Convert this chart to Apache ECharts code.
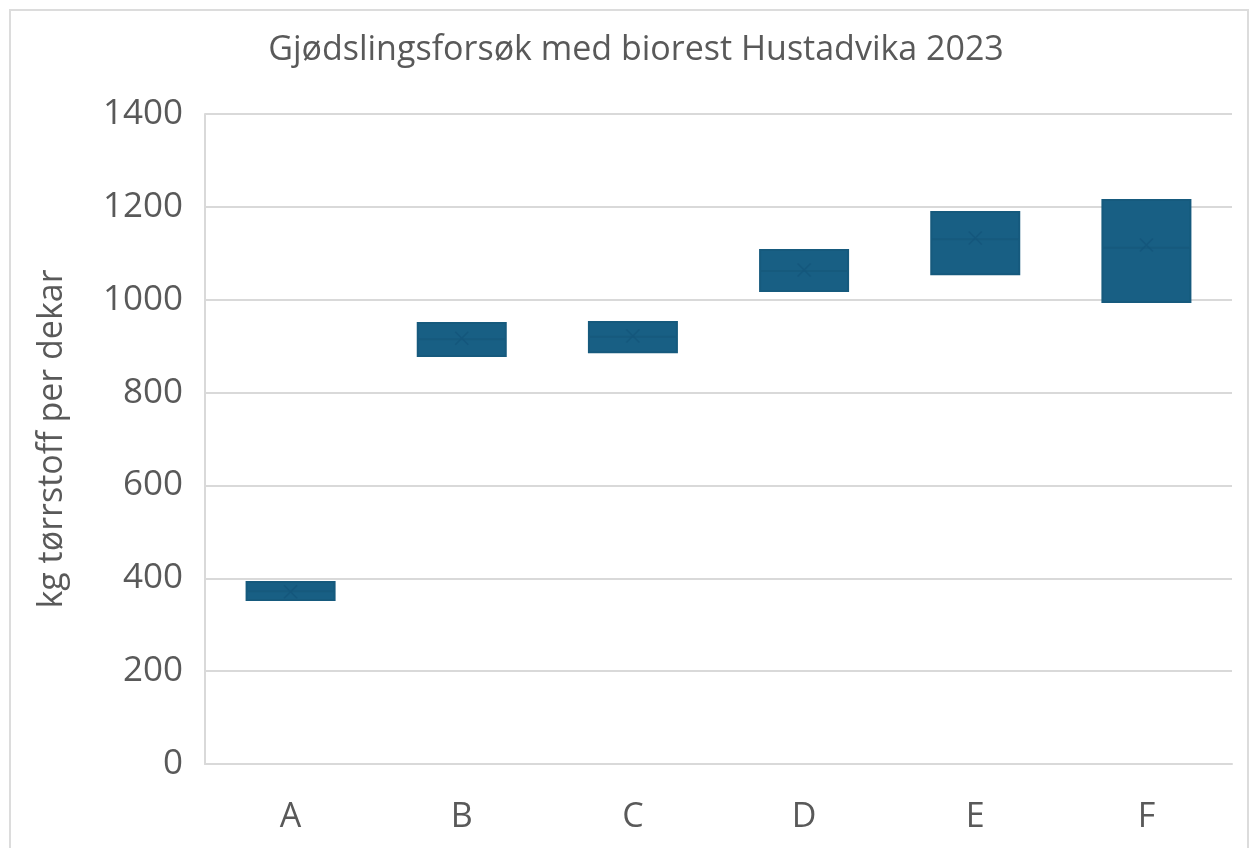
<!DOCTYPE html>
<html>
<head>
<meta charset="utf-8">
<script src="https://cdn.jsdelivr.net/npm/echarts@6/dist/echarts.min.js"></script>
<style>
html,body{margin:0;padding:0;background:#fff;}
#chart{width:1252px;height:848px;}
</style>
</head>
<body>
<div id="chart"></div>
<script>
var categories = ['A', 'B', 'C', 'D', 'E', 'F'];
var lowValues = [353, 879, 887, 1019, 1055, 995];
var medianValues = [372, 915, 920, 1062, 1130, 1112];
var highValues = [392, 950, 952, 1107, 1189, 1215];
var meanValues = [371, 917, 922, 1064, 1133, 1118];
var yTicks = [0, 200, 400, 600, 800, 1000, 1200, 1400];

var boxData = categories.map(function (c, i) {
  return [lowValues[i], lowValues[i], medianValues[i], highValues[i], highValues[i]];
});

var chart = echarts.init(document.getElementById('chart'));
var font = '"Open Sans", "Noto Sans", sans-serif';
chart.setOption({
  animation: false,
  backgroundColor: '#ffffff',
  title: {
    text: 'Gjødslingsforsøk med biorest Hustadvika 2023',
    left: 631, top: 28, textAlign: 'center',
    textStyle: { fontFamily: font, fontSize: 34, fontWeight: 'normal', color: '#595959' }
  },
  graphic: [{
    type: 'rect', shape: { x: 10, y: 10, width: 1238, height: 860 },
    style: { fill: 'none', stroke: '#dcdcdc', lineWidth: 2 }, silent: true, z: -1
  }],
  grid: { left: 205, right: 20, top: 114, bottom: 84 },
  xAxis: {
    type: 'category', data: categories,
    axisLine: { show: true, lineStyle: { color: '#d9d9d9', width: 2 } },
    axisTick: { show: false },
    axisLabel: { fontFamily: font, fontSize: 34, color: '#595959', margin: 36 }
  },
  yAxis: {
    type: 'value', min: 0, max: 1400, interval: 200,
    name: 'kg tørrstoff per dekar', nameLocation: 'middle', nameGap: 136,
    nameTextStyle: { fontFamily: font, fontSize: 34, color: '#595959' },
    axisLine: { show: true, lineStyle: { color: '#d9d9d9', width: 2 } },
    axisTick: { show: false },
    splitLine: { lineStyle: { color: '#d9d9d9', width: 2 } },
    axisLabel: {
      fontFamily: font, fontSize: 35, color: '#595959', margin: 22,
      formatter: function (v) { return yTicks.indexOf(v) >= 0 ? String(v) : ''; }
    }
  },
  series: [{
    type: 'boxplot',
    data: boxData,
    boxWidth: [88, 88],
    itemStyle: { color: '#185f84', borderColor: '#165a7d', borderWidth: 2 }
  }, {
    type: 'scatter',
    data: meanValues,
    symbol: 'path://M0,0 L10,10 M10,0 L0,10',
    symbolSize: 13,
    itemStyle: { color: 'none', borderColor: '#14557a', borderWidth: 1.5 },
    z: 5
  }]
});
</script>
</body>
</html>
